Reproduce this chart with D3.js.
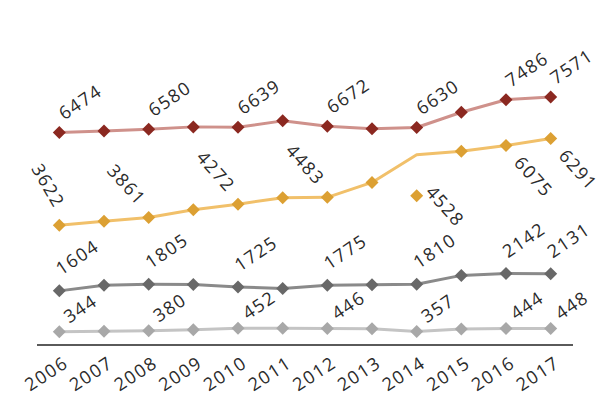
<!DOCTYPE html>
<html>
<head>
<meta charset="utf-8">
<script src="https://cdn.jsdelivr.net/npm/d3@7"></script>
<style>
  html, body { margin: 0; padding: 0; background: #fff; }
  svg { display: block; }
  text { font-family: "Open Sans", sans-serif; fill: #2a2a2a; }
</style>
</head>
<body>
<svg id="chart" width="603" height="396"></svg>
<script>
// Years on the horizontal axis
const years = [2006, 2007, 2008, 2009, 2010, 2011, 2012, 2013, 2014, 2015, 2016, 2017];

// Series values, one per year
const redValues   = [6474, 6520, 6580, 6650, 6639, 6835, 6672, 6590, 6630, 7100, 7486, 7571];
const goldValues  = [3622, 3745, 3861, 4100, 4272, 4470, 4483, 4940, 5790, 5900, 6075, 6291];
const darkValues  = [1604, 1780, 1805, 1800, 1725, 1680, 1775, 1795, 1810, 2080, 2142, 2131];
const lightValues = [344, 360, 380, 410, 452, 455, 446, 440, 357, 430, 444, 448];

// Years whose values are printed beside the markers
const labelledYears = [2006, 2008, 2010, 2012, 2014, 2016, 2017];

// The 2014 gold value sits off the line as its own marker
const goldOffLineYear = 2014;
const goldOffLineValue = 4528;

const FONT_SIZE = "18px";
const SPACING = "1.5px";

const svg = d3.select("#chart");

const x = d3.scalePoint().domain(years).range([37, 573]).padding(0.5);
const y = d3.scaleLinear().domain([0, 8000]).range([343, 83]);

// Baseline axis with rotated year labels
const xAxis = d3.axisBottom(x).tickSize(0).tickPadding(0);
const axisG = svg.append("g").attr("transform", "translate(0,345)").call(xAxis);
axisG.select(".domain").attr("stroke", "#5a5a5a").attr("stroke-width", 2).attr("d", "M37,0H573");
axisG.selectAll(".tick text")
  .attr("x", 0).attr("y", 0).attr("dy", 0)
  .attr("transform", "translate(-10,34) rotate(-33)")
  .attr("text-anchor", "middle")
  .style("font-family", "'Open Sans', sans-serif")
  .style("font-size", FONT_SIZE)
  .style("letter-spacing", SPACING)
  .style("fill", "#2a2a2a");

const diamond = "M0,-6.5L6.5,0L0,6.5L-6.5,0Z";

const series = [
  { key: "light", values: lightValues, line: "#c4c4c4", mark: "#a8a8a8", dx: 10, dy: -8,  angle: -34, anchor: "start" },
  { key: "dark",  values: darkValues,  line: "#8a8a8a", mark: "#686868", dx: 2,  dy: -15, angle: -34, anchor: "start" },
  { key: "gold",  values: goldValues,  line: "#f1c06a", mark: "#dca033", dx: -11, dy: -11, angle: 48, anchor: "end" },
  { key: "red",   values: redValues,   line: "#cf918b", mark: "#8b2820", dx: 5,  dy: -12, angle: -34, anchor: "start" }
];

// Gold label placement: early years sit above-left of the marker,
// from the off-line year onward they hang to the right.
function goldLabelPlacement(d) {
  if (d.year === goldOffLineYear) return { dx: 8, dy: -3, angle: 48, anchor: "start" };
  if (d.year > goldOffLineYear) return { dx: 7, dy: 18, angle: 48, anchor: "start" };
  if (d.year === years[0]) return { dx: -5, dy: -16, angle: 60, anchor: "end" };
  return { dx: -11, dy: -11, angle: 48, anchor: "end" };
}

const line = d3.line().x((d, i) => x(years[i])).y(d => y(d));

series.forEach(s => {
  const g = svg.append("g");
  g.append("path")
    .attr("d", line(s.values))
    .attr("fill", "none")
    .attr("stroke", s.line)
    .attr("stroke-width", 3)
    .attr("stroke-linejoin", "round");

  const isGold = s.key === "gold";
  const pts = years.map((yr, i) => ({ year: yr, value: s.values[i] }))
    .filter(p => !(isGold && p.year === goldOffLineYear));
  if (isGold) pts.push({ year: goldOffLineYear, value: goldOffLineValue });

  g.selectAll("path.mark").data(pts).enter().append("path")
    .attr("class", "mark")
    .attr("d", diamond)
    .attr("fill", s.mark)
    .attr("transform", d => `translate(${x(d.year)},${y(d.value)})`);

  const labels = pts.filter(p => labelledYears.includes(p.year));
  g.selectAll("text").data(labels).enter().append("text")
    .each(function (d) {
      const p = isGold ? goldLabelPlacement(d) : s;
      d3.select(this)
        .attr("transform", `translate(${x(d.year) + p.dx},${y(d.value) + p.dy}) rotate(${p.angle})`)
        .attr("text-anchor", p.anchor);
    })
    .style("font-size", FONT_SIZE)
    .style("letter-spacing", SPACING)
    .text(d => d.value);
});
</script>
</body>
</html>
